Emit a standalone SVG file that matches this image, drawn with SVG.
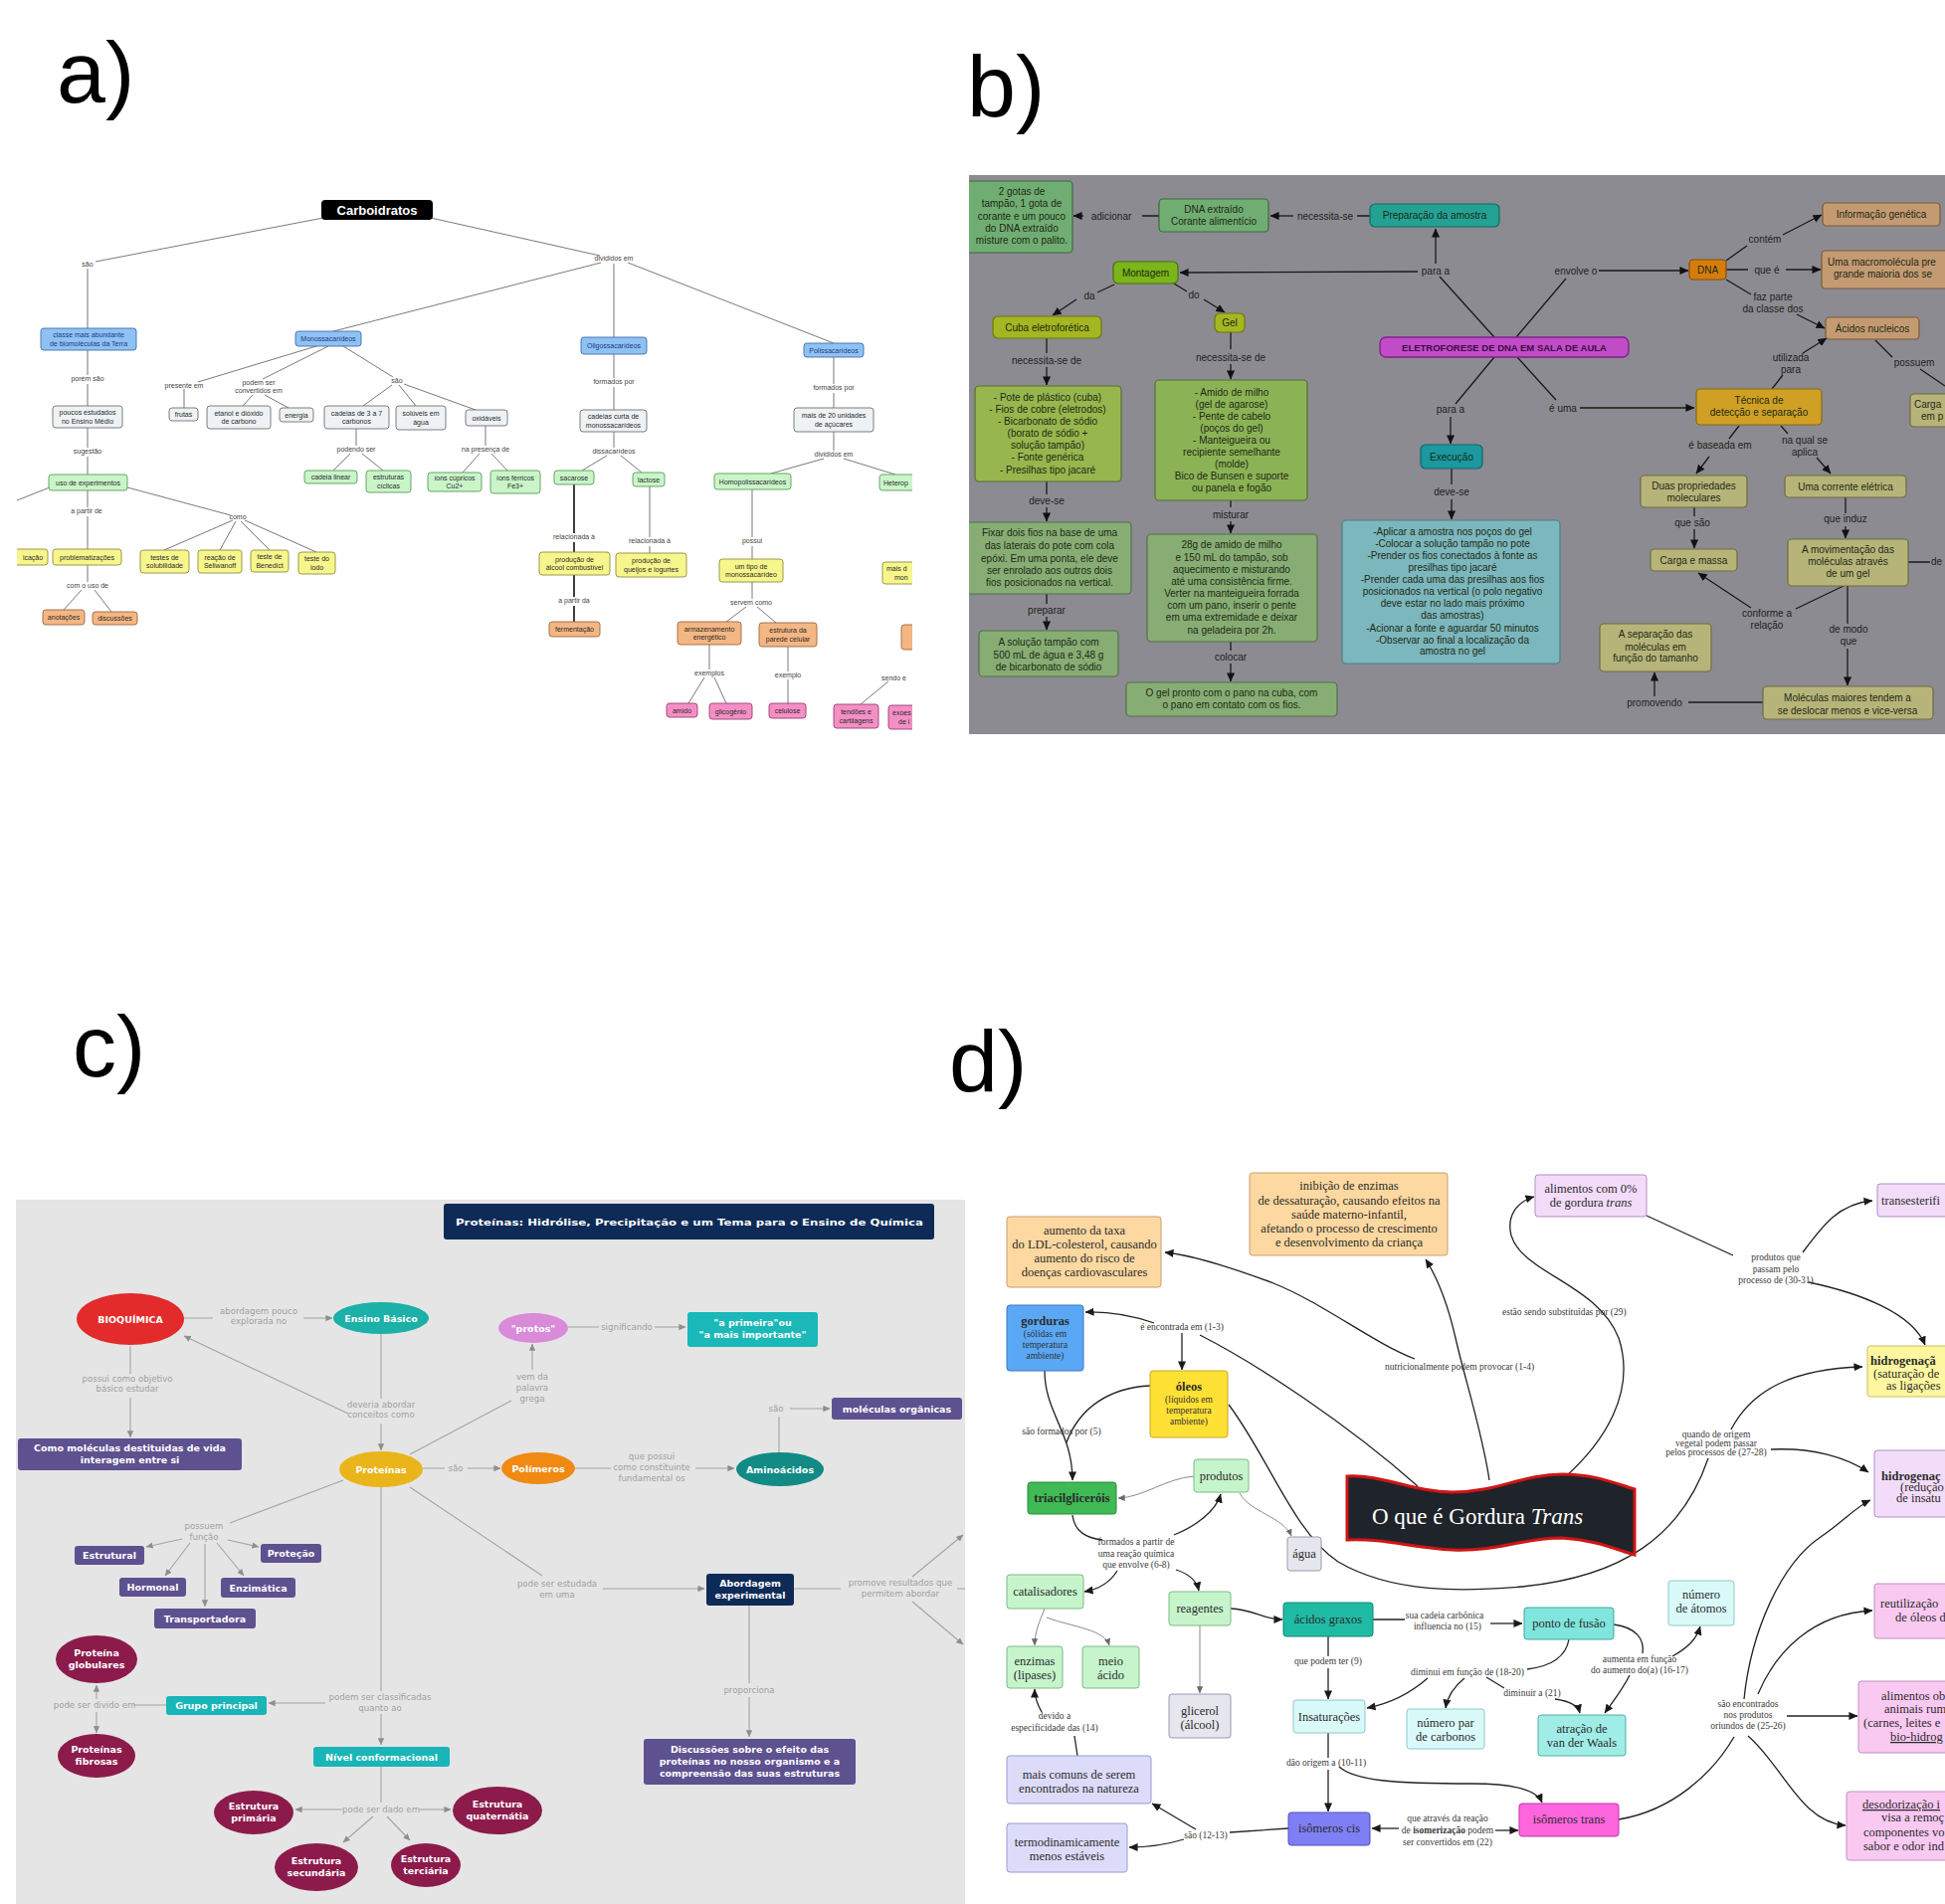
<svg xmlns="http://www.w3.org/2000/svg" width="1955" height="1914" viewBox="0 0 1955 1914">
<style>
.pl{font-family:"Liberation Sans",Arial,sans-serif;font-size:88px;fill:#000}
.an{font-family:"Liberation Sans",Arial,sans-serif;font-size:7px;fill:#2a2a2a;text-anchor:middle}
.anb{font-family:"Liberation Sans",Arial,sans-serif;font-size:7px;fill:#1a3a8a;text-anchor:middle}
.al{font-family:"Liberation Sans",Arial,sans-serif;font-size:7px;fill:#444;text-anchor:middle}
.ae{stroke:#6a6a6a;stroke-width:.9;fill:none}
.ab{fill:#8fc1f2;stroke:#3f6fae;stroke-width:.9}
.ag{fill:#eef2f5;stroke:#6f6f6f;stroke-width:.9}
.agr{fill:#c9f5c9;stroke:#5f9a5f;stroke-width:.9}
.ay{fill:#f7f68c;stroke:#8f8f40;stroke-width:.9}
.ao{fill:#f4b683;stroke:#9a6a40;stroke-width:.9}
.ap{fill:#f48fc6;stroke:#9a4070;stroke-width:.9}
.bt{font-family:"Liberation Sans",Arial,sans-serif;font-size:10px;fill:#1d2a14;text-anchor:middle}
.bl{font-family:"Liberation Sans",Arial,sans-serif;font-size:10px;fill:#1e1e1e;text-anchor:middle}
.be{stroke:#1a1a1a;stroke-width:1.3;fill:none}
.bg1{fill:#70ad72;stroke:#3d6b40;stroke-width:1.2}
.bg2{fill:#87ad74;stroke:#55704a;stroke-width:1.2}
.bk{fill:#b7b47a;stroke:#6e6c40;stroke-width:1.2}
.btn{fill:#c49a72;stroke:#7a5a3a;stroke-width:1.2}
.ct{font-family:"DejaVu Sans",Verdana,sans-serif;font-weight:bold;font-size:9.5px;fill:#fff;text-anchor:middle}
.cl{font-family:"DejaVu Sans",Verdana,sans-serif;font-size:8.6px;fill:#a0a0a0;text-anchor:middle}
.ce{stroke:#a4a4a4;stroke-width:1.1;fill:none}
.cp{fill:#5e5190}
.cm{fill:#8c1b4b}
.cq{fill:#19b5b8}
.dt{font-family:"Liberation Serif","Times New Roman",serif;font-size:12.5px;fill:#2b2b2b;text-anchor:middle}
.dts{font-family:"Liberation Serif","Times New Roman",serif;font-size:12.5px;fill:#2b2b2b}
.ds{font-family:"Liberation Serif","Times New Roman",serif;font-size:9.5px;fill:#333;text-anchor:middle}
.dl{font-family:"Liberation Serif","Times New Roman",serif;font-size:9.5px;fill:#3a3a3a;text-anchor:middle}
.de{stroke:#222;stroke-width:1.3;fill:none}
.dg{stroke:#8a8a8a;stroke-width:1;fill:none}
.dor{fill:#fdd8a0;stroke:#c8a070;stroke-width:1}
.dgr{fill:#c6f5cc;stroke:#80b888;stroke-width:1}
.dgy{fill:#e6e6ee;stroke:#9a9aaa;stroke-width:1}
.dcy{fill:#dafafa;stroke:#90c8c8;stroke-width:1}
.dlv{fill:#dcdcfa;stroke:#9a9ad0;stroke-width:1}
.dli{fill:#f3dcfa;stroke:#b090c0;stroke-width:1}
.dpk{fill:#f9c9f2;stroke:#c090c0;stroke-width:1}
</style>
<defs>
<marker id="mb" viewBox="0 0 10 10" refX="9.5" refY="5" markerWidth="9" markerHeight="9" markerUnits="userSpaceOnUse" orient="auto"><path d="M0,0.5 L10,5 L0,9.5 z" fill="#111"/></marker>
<marker id="mc" viewBox="0 0 10 10" refX="9.5" refY="5" markerWidth="7" markerHeight="7" markerUnits="userSpaceOnUse" orient="auto"><path d="M0,0.5 L10,5 L0,9.5 z" fill="#8e8e8e"/></marker>
<marker id="md" viewBox="0 0 10 10" refX="9.5" refY="5" markerWidth="9" markerHeight="9" markerUnits="userSpaceOnUse" orient="auto"><path d="M0,0.5 L10,5 L0,9.5 z" fill="#1a1a1a"/></marker>
<marker id="mg" viewBox="0 0 10 10" refX="9.5" refY="5" markerWidth="7" markerHeight="7" markerUnits="userSpaceOnUse" orient="auto"><path d="M0,0.5 L10,5 L0,9.5 z" fill="#6a6a6a"/></marker>
<clipPath id="ca"><rect x="17" y="185" width="900" height="585"/></clipPath>
<clipPath id="cb"><rect x="974" y="176" width="981" height="562"/></clipPath>
<clipPath id="cc"><rect x="16" y="1206" width="954" height="708"/></clipPath>
</defs>
<rect x="0" y="0" width="1955" height="1914" fill="#fff"/>

<g id="panel-labels">
<text class="pl" x="57" y="103">a)</text>
<text class="pl" x="972" y="117">b)</text>
<text class="pl" x="73" y="1082">c)</text>
<text class="pl" x="954" y="1097">d)</text>
</g>

<!-- ================= PANEL A ================= -->
<g id="panel-a" clip-path="url(#ca)">
<g id="a-connectors">
<path class="ae" d="M325,219 L96,263 M88,270 L88,330 M433,219 L603,257 M604,264 L335,333 M617,265 L617,339 M631,264 L838,345 M88,352 L88,377 M88,386 L88,408 M88,430 L88,450 M88,459 L88,477 M88,493 L88,510 M88,519 L88,552 M50,490 L17,503 M128,490 L232,518 M88,568 L88,585 M82,593 L64,613 M95,593 L112,615 M234,523 L165,553 M237,524 L221,553 M242,524 L271,553 M246,523 L318,555 M318,348 L199,384 M185,391 L185,410 M330,348 L264,381 M254,397 L244,408 M266,397 L290,410 M345,348 L395,379 M394,387 L365,408 M401,387 L418,408 M406,386 L478,412 M358,431 L358,448 M352,456 L335,473 M364,456 L385,473 M488,428 L488,448 M482,456 L465,475 M494,456 L510,473 M617,356 L617,380 M617,389 L617,412 M617,434 L617,450 M610,458 L585,473 M624,458 L645,475 M653,489 L653,540 M653,549 L653,556 M838,359 L838,386 M838,395 L838,410 M838,434 L838,453 M828,461 L775,476 M848,461 L900,477 M756,492 L756,540 M756,549 L756,562 M756,585 L756,602 M750,610 L730,625 M761,610 L780,626 M713,648 L713,673 M708,681 L692,707 M718,681 L730,707 M792,650 L792,675 M792,683 L792,707 M893,685 L865,708"/>
<path d="M577,487 L577,536 M577,545 L577,555 M577,578 L577,600 M577,609 L577,625" stroke="#111" stroke-width="1.6" fill="none"/>
</g>
<g id="a-labels">
<text class="al" x="88" y="267.5">são</text>
<text class="al" x="617" y="261.5">divididos em</text>
<text class="al" x="88" y="382.5">porém são</text>
<text class="al" x="88" y="455.5">sugestão</text>
<text class="al" x="87" y="515.5">a partir de</text>
<text class="al" x="239" y="521.5">como</text>
<text class="al" x="88" y="590.5">com o uso de</text>
<text class="al" x="185" y="389.5">presente em</text>
<text class="al" x="260" y="386.5">podem ser</text>
<text class="al" x="260" y="395">convertidos em</text>
<text class="al" x="399" y="384.5">são</text>
<text class="al" x="358" y="453.5">podendo ser</text>
<text class="al" x="488" y="453.5">na presença de</text>
<text class="al" x="617" y="385.5">formados por</text>
<text class="al" x="617" y="455.5">dissacarídeos</text>
<text class="al" x="577" y="541.5">relacionada à</text>
<text class="al" x="653" y="545.5">relacionada à</text>
<text class="al" x="577" y="605.5">a partir da</text>
<text class="al" x="838" y="391.5">formados por</text>
<text class="al" x="838" y="458.5">divididos em</text>
<text class="al" x="756" y="545.5">possui</text>
<text class="al" x="755" y="607.5">servem como</text>
<text class="al" x="713" y="678.5">exemplos</text>
<text class="al" x="792" y="680.5">exemplo</text>
<text class="al" x="886" y="683.5" style="text-anchor:start">sendo e</text>
</g>
<g id="a-carboidratos"><rect x="323" y="201" width="112" height="20" rx="4" fill="#000"/><text x="379" y="216" font-family="'Liberation Sans',Arial,sans-serif" font-weight="bold" font-size="13" fill="#fff" text-anchor="middle">Carboidratos</text></g>
<g id="a-classe"><rect class="ab" x="41" y="330" width="96" height="22" rx="3"/><text class="anb" x="89" y="339.3">classe mais abundante</text><text class="anb" x="89" y="347.6">de biomoléculas da Terra</text></g>
<g id="a-poucos"><rect class="ag" x="53" y="408" width="70" height="22" rx="3"/><text class="an" x="88" y="417.3">poucos estudados</text><text class="an" x="88" y="425.6">no Ensino Médio</text></g>
<g id="a-uso"><rect class="agr" x="49" y="477" width="79" height="16" rx="3"/><text class="an" x="88.5" y="487.5">uso de experimentos</text></g>
<g id="a-icacao"><rect class="ay" x="12" y="552" width="36" height="16" rx="3"/><text class="an" x="33" y="562.5">icação</text></g>
<g id="a-problem"><rect class="ay" x="53" y="552" width="69" height="16" rx="3"/><text class="an" x="87.5" y="562.5">problematizações</text></g>
<g id="a-anotacoes"><rect class="ao" x="43" y="613" width="42" height="15" rx="3"/><text class="an" x="64" y="623">anotações</text></g>
<g id="a-discussoes"><rect class="ao" x="93" y="615" width="45" height="13" rx="3"/><text class="an" x="115.5" y="624">discussões</text></g>
<g id="a-testes"><rect class="ay" x="141" y="553" width="49" height="23" rx="3"/><text class="an" x="165.5" y="562.8">testes de</text><text class="an" x="165.5" y="571.1">solubilidade</text></g>
<g id="a-seliwanoff"><rect class="ay" x="199" y="553" width="44" height="23" rx="3"/><text class="an" x="221" y="562.8">reação de</text><text class="an" x="221" y="571.1">Seliwanoff</text></g>
<g id="a-benedict"><rect class="ay" x="252" y="553" width="38" height="22" rx="3"/><text class="an" x="271" y="562.3">teste de</text><text class="an" x="271" y="570.6">Benedict</text></g>
<g id="a-iodo"><rect class="ay" x="300" y="555" width="37" height="22" rx="3"/><text class="an" x="318.5" y="564.3">teste do</text><text class="an" x="318.5" y="572.6">iodo</text></g>
<g id="a-mono"><rect class="ab" x="297" y="333" width="66" height="15" rx="3"/><text class="anb" x="330" y="343">Monossacarídeos</text></g>
<g id="a-frutas"><rect class="ag" x="170" y="410" width="29" height="13" rx="3"/><text class="an" x="184.5" y="419">frutas</text></g>
<g id="a-etanol"><rect class="ag" x="208" y="408" width="64" height="23" rx="3"/><text class="an" x="240" y="417.8">etanol e dióxido</text><text class="an" x="240" y="426.1">de carbono</text></g>
<g id="a-energia"><rect class="ag" x="281" y="410" width="34" height="14" rx="3"/><text class="an" x="298" y="419.5">energia</text></g>
<g id="a-cadeias"><rect class="ag" x="326" y="408" width="65" height="23" rx="3"/><text class="an" x="358.5" y="417.8">cadeias de 3 a 7</text><text class="an" x="358.5" y="426.1">carbonos</text></g>
<g id="a-soluveis"><rect class="ag" x="398" y="408" width="50" height="24" rx="3"/><text class="an" x="423" y="418.3">solúveis em</text><text class="an" x="423" y="426.6">água</text></g>
<g id="a-oxidaveis"><rect class="ag" x="468" y="412" width="42" height="16" rx="3"/><text class="an" x="489" y="422.5">oxidáveis</text></g>
<g id="a-linear"><rect class="agr" x="306" y="473" width="53" height="13" rx="3"/><text class="an" x="332.5" y="482">cadeia linear</text></g>
<g id="a-ciclicas"><rect class="agr" x="368" y="473" width="45" height="22" rx="3"/><text class="an" x="390.5" y="482.3">estruturas</text><text class="an" x="390.5" y="490.6">cíclicas</text></g>
<g id="a-cupricos"><rect class="agr" x="430" y="475" width="54" height="19" rx="3"/><text class="an" x="457" y="482.8">íons cúpricos</text><text class="an" x="457" y="491.1">Cu2+</text></g>
<g id="a-ferricos"><rect class="agr" x="493" y="473" width="50" height="23" rx="3"/><text class="an" x="518" y="482.8">íons férricos</text><text class="an" x="518" y="491.1">Fe3+</text></g>
<g id="a-oligo"><rect class="ab" x="584" y="339" width="66" height="17" rx="3"/><text class="anb" x="617" y="350">Oligossacarídeos</text></g>
<g id="a-curta"><rect class="ag" x="583" y="412" width="67" height="22" rx="3"/><text class="an" x="616.5" y="421.3">cadeias curta de</text><text class="an" x="616.5" y="429.6">monossacarídeos</text></g>
<g id="a-sacarose"><rect class="agr" x="557" y="473" width="40" height="14" rx="3"/><text class="an" x="577" y="482.5">sacarose</text></g>
<g id="a-lactose"><rect class="agr" x="636" y="475" width="32" height="14" rx="3"/><text class="an" x="652" y="484.5">lactose</text></g>
<g id="a-alcool"><rect class="ay" x="542" y="555" width="71" height="23" rx="3" stroke="#333"/><text class="an" x="577.5" y="564.8">produção de</text><text class="an" x="577.5" y="573.1">álcool combustível</text></g>
<g id="a-queijos"><rect class="ay" x="619" y="556" width="71" height="24" rx="3"/><text class="an" x="654.5" y="566.3">produção de</text><text class="an" x="654.5" y="574.6">queijos e iogurtes</text></g>
<g id="a-fermentacao"><rect class="ao" x="552" y="625" width="51" height="15" rx="3"/><text class="an" x="577.5" y="635">fermentação</text></g>
<g id="a-poli"><rect class="ab" x="808" y="345" width="60" height="14" rx="3"/><text class="anb" x="838" y="354.5">Polissacarídeos</text></g>
<g id="a-mais20"><rect class="ag" x="798" y="410" width="80" height="24" rx="3"/><text class="an" x="838" y="420.3">mais de 20 unidades</text><text class="an" x="838" y="428.6">de açúcares</text></g>
<g id="a-homo"><rect class="agr" x="718" y="476" width="77" height="16" rx="3"/><text class="an" x="756.5" y="486.5">Homopolissacarídeos</text></g>
<g id="a-hetero"><rect class="agr" x="884" y="477" width="50" height="16" rx="3"/><text class="an" x="888" y="487.5" style="text-anchor:start">Heterop</text></g>
<g id="a-umtipo"><rect class="ay" x="723" y="562" width="64" height="23" rx="3"/><text class="an" x="755" y="571.8">um tipo de</text><text class="an" x="755" y="580.1">monossacarídeo</text></g>
<g id="a-armaz"><rect class="ao" x="681" y="625" width="64" height="23" rx="3"/><text class="an" x="713" y="634.8">armazenamento</text><text class="an" x="713" y="643.1">energético</text></g>
<g id="a-parede"><rect class="ao" x="763" y="626" width="58" height="24" rx="3"/><text class="an" x="792" y="636.3">estrutura da</text><text class="an" x="792" y="644.6">parede celular</text></g>
<g id="a-amido"><rect class="ap" x="670" y="707" width="31" height="14" rx="3"/><text class="an" x="685.5" y="716.5">amido</text></g>
<g id="a-glicogenio"><rect class="ap" x="713" y="707" width="43" height="16" rx="3"/><text class="an" x="734.5" y="717.5">glicogênio</text></g>
<g id="a-celulose"><rect class="ap" x="773" y="707" width="37" height="15" rx="3"/><text class="an" x="791.5" y="717">celulose</text></g>
<g id="a-maisdeum"><rect class="ay" x="887" y="565" width="50" height="22" rx="3"/><text class="an" x="891" y="574.3" style="text-anchor:start">mais d</text><text class="an" x="899" y="582.6" style="text-anchor:start">mon</text></g>
<g id="a-orange-r"><rect class="ao" x="906" y="628" width="30" height="25" rx="3"/></g>
<g id="a-tendoes"><rect class="ap" x="838" y="708" width="45" height="24" rx="3"/><text class="an" x="860.5" y="718.3">tendões e</text><text class="an" x="860.5" y="726.6">cartilagens</text></g>
<g id="a-exo"><rect class="ap" x="893" y="709" width="40" height="24" rx="3"/><text class="an" x="897" y="719.3" style="text-anchor:start">exoes</text><text class="an" x="903" y="727.6" style="text-anchor:start">de i</text></g>
</g>

<!-- ================= PANEL B ================= -->
<g id="panel-b" clip-path="url(#cb)">
<rect x="974" y="176" width="981" height="562" fill="#8c8b91"/>
<g id="b-connectors">
<path class="be" d="M1377,217 L1364,217 M1165,217 L1148,217 M1447,278 L1502,339 M1525,359 L1564,402 M1574,280 L1524,339 M1502,359 L1463,406 M1735,262 L1756,247 M1735,271 L1757,271 M1735,281 L1760,296 M1885,342 L1902,359 M1930,371 L1955,388 M1781,391 L1792,377 M1748,428 L1738,441 M1790,428 L1797,436 M1703,510 L1703,519 M1855,500 L1855,516 M1918,565 L1940,565 M1853,589 L1805,612 M1857,589 L1857,627 M1772,706 L1697,706 M1120,286 L1103,294 M1180,285 L1193,293 M1052,340 L1052,355 M1237,334 L1237,351 M1052,484 L1052,497 M1237,503 L1237,510 M1052,597 L1052,607 M1237,645 L1237,654 M1459,471 L1459,487"/>
<g marker-end="url(#mb)">
<path class="be" d="M1300,217 L1277,217"/>
<path class="be" d="M1089,217 L1079,217"/>
<path class="be" d="M1443,265 L1443,230"/>
<path class="be" d="M1425,273 L1186,274"/>
<path class="be" d="M1607,272 L1697,272"/>
<path class="be" d="M1588,410 L1703,410"/>
<path class="be" d="M1458,419 L1458,446"/>
<path class="be" d="M1792,236 L1831,216"/>
<path class="be" d="M1795,271 L1830,271"/>
<path class="be" d="M1806,316 L1834,330"/>
<path class="be" d="M1812,355 L1836,340"/>
<path class="be" d="M1718,459 L1705,476"/>
<path class="be" d="M1826,460 L1840,476"/>
<path class="be" d="M1703,532 L1703,551"/>
<path class="be" d="M1855,529 L1855,541"/>
<path class="be" d="M1760,611 L1707,576"/>
<path class="be" d="M1857,652 L1857,689"/>
<path class="be" d="M1663,700 L1663,676"/>
<path class="be" d="M1082,301 L1058,317"/>
<path class="be" d="M1210,301 L1231,314"/>
<path class="be" d="M1052,369 L1052,387"/>
<path class="be" d="M1237,366 L1237,381"/>
<path class="be" d="M1052,510 L1052,524"/>
<path class="be" d="M1237,524 L1237,536"/>
<path class="be" d="M1052,620 L1052,633"/>
<path class="be" d="M1237,667 L1237,685"/>
<path class="be" d="M1459,502 L1459,522"/>
</g>
</g>
<g id="b-labels">
<text class="bl" x="1117" y="220.5">adicionar</text>
<text class="bl" x="1332" y="220.5">necessita-se</text>
<text class="bl" x="1443" y="275.5">para a</text>
<text class="bl" x="1584" y="275.5">envolve o</text>
<text class="bl" x="1458" y="414.5">para a</text>
<text class="bl" x="1571" y="413.5">é uma</text>
<text class="bl" x="1774" y="243.5">contém</text>
<text class="bl" x="1776" y="274.5">que é</text>
<text class="bl" x="1782" y="302">faz parte</text>
<text class="bl" x="1782" y="314">da classe dos</text>
<text class="bl" x="1800" y="362.5">utilizada</text>
<text class="bl" x="1800" y="374.5">para</text>
<text class="bl" x="1924" y="367.5">possuem</text>
<text class="bl" x="1729" y="450.5">é baseada em</text>
<text class="bl" x="1814" y="445.5">na qual se</text>
<text class="bl" x="1814" y="457.5">aplica</text>
<text class="bl" x="1701" y="528.5">que são</text>
<text class="bl" x="1855" y="524.5">que induz</text>
<text class="bl" x="1941" y="567.5" style="text-anchor:start">de</text>
<text class="bl" x="1776" y="620">conforme a</text>
<text class="bl" x="1776" y="631.5">relação</text>
<text class="bl" x="1858" y="635.5">de modo</text>
<text class="bl" x="1858" y="647.5">que</text>
<text class="bl" x="1663" y="709.5">promovendo</text>
<text class="bl" x="1095" y="300.5">da</text>
<text class="bl" x="1200" y="299.5">do</text>
<text class="bl" x="1052" y="365.5">necessita-se de</text>
<text class="bl" x="1237" y="362.5">necessita-se de</text>
<text class="bl" x="1052" y="506.5">deve-se</text>
<text class="bl" x="1237" y="520.5">misturar</text>
<text class="bl" x="1052" y="616.5">preparar</text>
<text class="bl" x="1237" y="663.5">colocar</text>
<text class="bl" x="1459" y="497.5">deve-se</text>
</g>
<g id="b-gotas"><rect class="bg1" x="960" y="182" width="118" height="72" rx="4"/><g font-size="9.5"><text class="bt" x="1027" y="196" font-size="9.5">2 gotas de</text><text class="bt" x="1027" y="208" font-size="9.5">tampão, 1 gota de</text><text class="bt" x="1027" y="221" font-size="9.5">corante e um pouco</text><text class="bt" x="1027" y="233" font-size="9.5">do DNA extraído</text><text class="bt" x="1027" y="245" font-size="9.5">misture com o palito.</text></g></g>
<g id="b-dna-extraido"><rect class="bg1" x="1165" y="200" width="110" height="33" rx="4"/><text class="bt" x="1220" y="214">DNA extraído</text><text class="bt" x="1220" y="226">Corante alimentício</text></g>
<g id="b-preparacao"><rect x="1377" y="205" width="130" height="23" rx="5" fill="#23a294" stroke="#166a60" stroke-width="1.2"/><text class="bt" x="1442" y="220" fill="#0d4f48">Preparação da amostra</text></g>
<g id="b-montagem"><rect x="1119" y="263" width="65" height="22" rx="5" fill="#7ab51a" stroke="#4a7010" stroke-width="1.2"/><text class="bt" x="1151.5" y="277.5" fill="#2f4a06">Montagem</text></g>
<g id="b-cuba"><rect x="998" y="318" width="109" height="22" rx="5" fill="#a4b621" stroke="#6a7a10" stroke-width="1.2"/><text class="bt" x="1052.5" y="332.5" fill="#3e4a05">Cuba eletroforética</text></g>
<g id="b-gel"><rect x="1221" y="315" width="30" height="19" rx="5" fill="#a4b621" stroke="#6a7a10" stroke-width="1.2"/><text class="bt" x="1236" y="328" fill="#3e4a05">Gel</text></g>
<g id="b-pote"><rect x="980" y="388" width="147" height="96" rx="4" fill="#97b64d" stroke="#5a7030" stroke-width="1.2"/><text class="bt" x="1053" y="403">- Pote de plástico (cuba)</text><text class="bt" x="1053" y="415">- Fios de cobre (eletrodos)</text><text class="bt" x="1053" y="427">- Bicarbonato de sódio</text><text class="bt" x="1053" y="439">(borato de sódio +</text><text class="bt" x="1053" y="451">solução tampão)</text><text class="bt" x="1053" y="463">- Fonte genérica</text><text class="bt" x="1053" y="476">- Presilhas tipo jacaré</text></g>
<g id="b-amido"><rect x="1161" y="382" width="153" height="121" rx="4" fill="#8cb256" stroke="#557030" stroke-width="1.2"/><text class="bt" x="1238" y="398">- Amido de milho</text><text class="bt" x="1238" y="410">(gel de agarose)</text><text class="bt" x="1238" y="422">- Pente de cabelo</text><text class="bt" x="1238" y="434">(poços do gel)</text><text class="bt" x="1238" y="446">- Manteigueira ou</text><text class="bt" x="1238" y="458">recipiente semelhante</text><text class="bt" x="1238" y="470">(molde)</text><text class="bt" x="1238" y="482">Bico de Bunsen e suporte</text><text class="bt" x="1238" y="494">ou panela e fogão</text></g>
<g id="b-fixar"><rect class="bg2" x="970" y="525" width="167" height="72" rx="4"/><text class="bt" x="1055" y="539">Fixar dois fios na base de uma</text><text class="bt" x="1055" y="552">das laterais do pote com cola</text><text class="bt" x="1055" y="565">epóxi. Em uma ponta, ele deve</text><text class="bt" x="1055" y="577">ser enrolado aos outros dois</text><text class="bt" x="1055" y="589">fios posicionados na vertical.</text></g>
<g id="b-solucao"><rect class="bg2" x="984" y="634" width="140" height="46" rx="4"/><text class="bt" x="1054" y="649">A solução tampão com</text><text class="bt" x="1054" y="662">500 mL de água e 3,48 g</text><text class="bt" x="1054" y="674">de bicarbonato de sódio</text></g>
<g id="b-28g"><rect class="bg2" x="1153" y="537" width="171" height="108" rx="4"/><text class="bt" x="1238" y="551">28g de amido de milho</text><text class="bt" x="1238" y="564">e 150 mL do tampão, sob</text><text class="bt" x="1238" y="576">aquecimento e misturando</text><text class="bt" x="1238" y="588">até uma consistência firme.</text><text class="bt" x="1238" y="600">Verter na manteigueira forrada</text><text class="bt" x="1238" y="612">com um pano, inserir o pente</text><text class="bt" x="1238" y="624">em uma extremidade e deixar</text><text class="bt" x="1238" y="637">na geladeira por 2h.</text></g>
<g id="b-gelpronto"><rect class="bg2" x="1132" y="686" width="212" height="34" rx="4"/><text class="bt" x="1238" y="700">O gel pronto com o pano na cuba, com</text><text class="bt" x="1238" y="712">o pano em contato com os fios.</text></g>
<g id="b-eletroforese"><rect x="1387" y="339" width="250" height="20" rx="6" fill="#c04cc8" stroke="#80208a" stroke-width="1.3"/><text x="1512" y="352.5" font-family="'Liberation Sans',Arial,sans-serif" font-weight="bold" font-size="9.5" fill="#3c0a45" text-anchor="middle">ELETROFORESE DE DNA EM SALA DE AULA</text></g>
<g id="b-execucao"><rect x="1428" y="447" width="62" height="24" rx="5" fill="#1b98a0" stroke="#10666c" stroke-width="1.2"/><text class="bt" x="1459" y="462.5" fill="#0a4a50">Execução</text></g>
<g id="b-passos"><rect x="1349" y="523" width="219" height="144" rx="4" fill="#7cb7bd" stroke="#4a8088" stroke-width="1.2"/><text class="bt" fill="#0c2a30" x="1460" y="538">-Aplicar a amostra nos poços do gel</text><text class="bt" fill="#0c2a30" x="1460" y="550">-Colocar a solução tampão no pote</text><text class="bt" fill="#0c2a30" x="1460" y="562">-Prender os fios conectados à fonte as</text><text class="bt" fill="#0c2a30" x="1460" y="574">presilhas tipo jacaré</text><text class="bt" fill="#0c2a30" x="1460" y="586">-Prender cada uma das presilhas aos fios</text><text class="bt" fill="#0c2a30" x="1460" y="598">posicionados na vertical (o polo negativo</text><text class="bt" fill="#0c2a30" x="1460" y="610">deve estar no lado mais próximo</text><text class="bt" fill="#0c2a30" x="1460" y="622">das amostras)</text><text class="bt" fill="#0c2a30" x="1460" y="635">-Acionar a fonte e aguardar 50 minutos</text><text class="bt" fill="#0c2a30" x="1460" y="647">-Observar ao final a localização da</text><text class="bt" fill="#0c2a30" x="1460" y="658">amostra no gel</text></g>
<g id="b-dna"><rect x="1698" y="261" width="37" height="20" rx="4" fill="#d57d0c" stroke="#8a4a05" stroke-width="1.2"/><text class="bt" x="1716.5" y="274.5" fill="#6a2a00">DNA</text></g>
<g id="b-informacao"><rect class="btn" x="1832" y="204" width="118" height="23" rx="4"/><text class="bt" x="1891" y="219" fill="#5a3010">Informação genética</text></g>
<g id="b-macro"><rect class="btn" x="1831" y="252" width="140" height="38" rx="4"/><text class="bt" x="1837" y="267" fill="#5a3010" style="text-anchor:start">Uma macromolécula pre</text><text class="bt" x="1843" y="279" fill="#5a3010" style="text-anchor:start">grande maioria dos se</text></g>
<g id="b-acidos"><rect class="btn" x="1835" y="319" width="94" height="22" rx="4"/><text class="bt" x="1882" y="333.5" fill="#5a3010">Ácidos nucleicos</text></g>
<g id="b-carga-r"><rect class="bk" x="1920" y="396" width="50" height="33" rx="4"/><text class="bt" x="1924" y="410" fill="#3a3a10" style="text-anchor:start">Carga</text><text class="bt" x="1931" y="422" fill="#3a3a10" style="text-anchor:start">em p</text></g>
<g id="b-tecnica"><rect x="1705" y="391" width="126" height="36" rx="4" fill="#cfa023" stroke="#8a6a10" stroke-width="1.2"/><text class="bt" x="1768" y="406" fill="#4a3a05">Técnica de</text><text class="bt" x="1768" y="418" fill="#4a3a05">detecção e separação</text></g>
<g id="b-duas"><rect class="bk" x="1649" y="478" width="107" height="32" rx="4"/><text class="bt" x="1702.5" y="492" fill="#3a3a10">Duas propriedades</text><text class="bt" x="1702.5" y="504" fill="#3a3a10">moleculares</text></g>
<g id="b-carga"><rect class="bk" x="1659" y="552" width="87" height="22" rx="4"/><text class="bt" x="1702.5" y="566.5" fill="#3a3a10">Carga e massa</text></g>
<g id="b-corrente"><rect class="bk" x="1794" y="478" width="122" height="22" rx="4"/><text class="bt" x="1855" y="492.5" fill="#3a3a10">Uma corrente elétrica</text></g>
<g id="b-movimentacao"><rect class="bk" x="1797" y="542" width="121" height="47" rx="4"/><text class="bt" x="1857.5" y="556" fill="#3a3a10">A movimentação das</text><text class="bt" x="1857.5" y="568" fill="#3a3a10">moléculas através</text><text class="bt" x="1857.5" y="580" fill="#3a3a10">de um gel</text></g>
<g id="b-separacao"><rect class="bk" x="1608" y="627" width="112" height="48" rx="4"/><text class="bt" x="1664" y="641" fill="#3a3a10">A separação das</text><text class="bt" x="1664" y="654" fill="#3a3a10">moléculas em</text><text class="bt" x="1664" y="665" fill="#3a3a10">função do tamanho</text></g>
<g id="b-maiores"><rect class="bk" x="1772" y="690" width="171" height="33" rx="4"/><text class="bt" x="1857" y="705" fill="#3a3a10">Moléculas maiores tendem a</text><text class="bt" x="1857" y="718" fill="#3a3a10">se deslocar menos e vice-versa</text></g>
</g>

<!-- ================= PANEL C ================= -->
<g id="panel-c" clip-path="url(#cc)">
<rect x="16" y="1206" width="954" height="708" fill="#e5e5e5"/>
<g id="c-connectors">
<path class="ce" d="M185,1325 L214,1325 M383,1341 L383,1406 M131,1353 L131,1381 M425,1476 L447,1476 M578,1476 L614,1476 M783,1460 L783,1424 M412,1462 L514,1408 M571,1334 L602,1334 M345,1488 L231,1531 M383,1495 L383,1700 M167,1714 L134,1714 M383,1776 L383,1812 M412,1495 L545,1584 M753,1614 L753,1692 M798,1597 L845,1597 M962,1597 L970,1597"/>
<g marker-end="url(#mc)">
<path class="ce" d="M305,1325 L334,1325"/>
<path class="ce" d="M383,1431 L383,1458"/>
<path class="ce" d="M350,1421 L185,1343"/>
<path class="ce" d="M131,1405 L131,1445"/>
<path class="ce" d="M470,1476 L503,1476"/>
<path class="ce" d="M699,1476 L738,1476"/>
<path class="ce" d="M794,1416 L834,1416"/>
<path class="ce" d="M535,1377 L535,1351"/>
<path class="ce" d="M658,1334 L689,1334"/>
<path class="ce" d="M183,1547 L147,1555"/>
<path class="ce" d="M229,1548 L260,1555"/>
<path class="ce" d="M191,1551 L166,1584"/>
<path class="ce" d="M218,1551 L245,1584"/>
<path class="ce" d="M206,1552 L206,1615"/>
<path class="ce" d="M383,1723 L383,1754"/>
<path class="ce" d="M327,1712 L270,1712"/>
<path class="ce" d="M97,1708 L97,1694"/>
<path class="ce" d="M97,1721 L97,1742"/>
<path class="ce" d="M344,1819 L297,1819"/>
<path class="ce" d="M422,1819 L453,1819"/>
<path class="ce" d="M375,1826 L345,1852"/>
<path class="ce" d="M389,1826 L412,1850"/>
<path class="ce" d="M606,1597 L708,1597"/>
<path class="ce" d="M753,1706 L753,1746"/>
<path class="ce" d="M917,1585 L968,1543"/>
<path class="ce" d="M917,1610 L968,1653"/>
</g>
</g>
<g id="c-labels">
<text class="cl" x="260" y="1321">abordagem pouco</text>
<text class="cl" x="260" y="1331">explorada no</text>
<text class="cl" x="383" y="1415">deveria abordar</text>
<text class="cl" x="383" y="1425">conceitos como</text>
<text class="cl" x="128" y="1389">possui como objetivo</text>
<text class="cl" x="128" y="1399">básico estudar</text>
<text class="cl" x="458" y="1479">são</text>
<text class="cl" x="655" y="1467">que possui</text>
<text class="cl" x="655" y="1478">como constituinte</text>
<text class="cl" x="655" y="1489">fundamental os</text>
<text class="cl" x="780" y="1419">são</text>
<text class="cl" x="535" y="1387">vem da</text>
<text class="cl" x="535" y="1398">palavra</text>
<text class="cl" x="535" y="1409">grega</text>
<text class="cl" x="630" y="1337">significando</text>
<text class="cl" x="205" y="1537">possuem</text>
<text class="cl" x="205" y="1548">função</text>
<text class="cl" x="382" y="1709">podem ser classificadas</text>
<text class="cl" x="382" y="1720">quanto ao</text>
<text class="cl" x="95" y="1717">pode ser divido em</text>
<text class="cl" x="383" y="1822">pode ser dado em</text>
<text class="cl" x="560" y="1595">pode ser estudada</text>
<text class="cl" x="560" y="1606">em uma</text>
<text class="cl" x="753" y="1702">proporciona</text>
<text class="cl" x="905" y="1594">promove resultados que</text>
<text class="cl" x="905" y="1605">permitem abordar</text>
</g>
<g id="c-title"><rect x="446" y="1210" width="493" height="36" rx="3" fill="#0e2b57"/><text class="ct" x="693" y="1232" font-size="11" textLength="470" lengthAdjust="spacingAndGlyphs">Proteínas: Hidrólise, Precipitação e um Tema para o Ensino de Química</text></g>
<g id="c-bioquimica"><ellipse cx="131" cy="1326" rx="54" ry="26" fill="#e32b2b"/><text class="ct" x="131" y="1330" font-size="11">BIOQUÍMICA</text></g>
<g id="c-ensino"><ellipse cx="383" cy="1325" rx="48" ry="16" fill="#1bb0a8"/><text class="ct" x="383" y="1328.5">Ensino Básico</text></g>
<g id="c-protos"><ellipse cx="536" cy="1335" rx="35" ry="15" fill="#d98ad8"/><text class="ct" x="536" y="1338.5">"protos"</text></g>
<g id="c-primeira"><rect x="691" y="1319" width="131" height="35" rx="3" fill="#1ab8b8"/><text class="ct" x="756.5" y="1333">"a primeira"ou</text><text class="ct" x="756.5" y="1345">"a mais importante"</text></g>
<g id="c-proteinas"><ellipse cx="383" cy="1477" rx="42" ry="18" fill="#eab51a"/><text class="ct" x="383" y="1480.5">Proteínas</text></g>
<g id="c-polimeros"><ellipse cx="541" cy="1476" rx="37" ry="16" fill="#f08a12"/><text class="ct" x="541" y="1479.5">Polímeros</text></g>
<g id="c-aminoacidos"><ellipse cx="784" cy="1477" rx="44" ry="17" fill="#128a85"/><text class="ct" x="784" y="1480.5">Aminoácidos</text></g>
<g id="c-organicas"><rect class="cp" x="836" y="1405" width="131" height="22" rx="3"/><text class="ct" x="901.5" y="1419.5">moléculas orgânicas</text></g>
<g id="c-como"><rect class="cp" x="18" y="1446" width="225" height="32" rx="3"/><text class="ct" x="130.5" y="1459">Como moléculas destituidas de vida</text><text class="ct" x="130.5" y="1471">interagem entre si</text></g>
<g id="c-estrutural"><rect class="cp" x="75" y="1554" width="70" height="19" rx="3"/><text class="ct" x="110" y="1567">Estrutural</text></g>
<g id="c-protecao"><rect class="cp" x="262" y="1552" width="61" height="19" rx="3"/><text class="ct" x="292.5" y="1565">Proteção</text></g>
<g id="c-hormonal"><rect class="cp" x="120" y="1586" width="67" height="19" rx="3"/><text class="ct" x="153.5" y="1599">Hormonal</text></g>
<g id="c-enzimatica"><rect class="cp" x="222" y="1586" width="75" height="20" rx="3"/><text class="ct" x="259.5" y="1599.5">Enzimática</text></g>
<g id="c-transportadora"><rect class="cp" x="155" y="1617" width="102" height="20" rx="3"/><text class="ct" x="206" y="1630.5">Transportadora</text></g>
<g id="c-grupo"><rect class="cq" x="167" y="1705" width="101" height="19" rx="3"/><text class="ct" x="217.5" y="1718">Grupo principal</text></g>
<g id="c-globulares"><ellipse class="cm" cx="97" cy="1668" rx="41" ry="24"/><text class="ct" x="97" y="1665">Proteína</text><text class="ct" x="97" y="1677">globulares</text></g>
<g id="c-fibrosas"><ellipse class="cm" cx="97" cy="1765" rx="39" ry="22"/><text class="ct" x="97" y="1762">Proteínas</text><text class="ct" x="97" y="1774">fibrosas</text></g>
<g id="c-nivel"><rect class="cq" x="315" y="1756" width="137" height="20" rx="3"/><text class="ct" x="383.5" y="1769.5">Nível conformacional</text></g>
<g id="c-primaria"><ellipse class="cm" cx="255" cy="1822" rx="40" ry="22"/><text class="ct" x="255" y="1819">Estrutura</text><text class="ct" x="255" y="1831">primária</text></g>
<g id="c-quaternaria"><ellipse class="cm" cx="500" cy="1820" rx="45" ry="24"/><text class="ct" x="500" y="1817">Estrutura</text><text class="ct" x="500" y="1829">quaternátia</text></g>
<g id="c-secundaria"><ellipse class="cm" cx="318" cy="1877" rx="42" ry="24"/><text class="ct" x="318" y="1874">Estrutura</text><text class="ct" x="318" y="1886">secundária</text></g>
<g id="c-terciaria"><ellipse class="cm" cx="428" cy="1875" rx="35" ry="22"/><text class="ct" x="428" y="1872">Estrutura</text><text class="ct" x="428" y="1884">terciária</text></g>
<g id="c-abordagem"><rect x="710" y="1582" width="88" height="32" rx="3" fill="#0e2b57"/><text class="ct" x="754" y="1595">Abordagem</text><text class="ct" x="754" y="1607">experimental</text></g>
<g id="c-discussoes"><rect class="cp" x="647" y="1748" width="213" height="46" rx="3"/><text class="ct" x="753.5" y="1762">Discussões sobre o efeito das</text><text class="ct" x="753.5" y="1774">proteínas no nosso organismo e a</text><text class="ct" x="753.5" y="1786">compreensão das suas estruturas</text></g>
</g>

<!-- ================= PANEL D ================= -->
<g id="panel-d">
<g id="d-connectors">
<path class="de" d="M1206,1342 C1265,1372 1355,1432 1425,1494"/>
<path class="de" d="M1156,1393 C1115,1395 1085,1415 1072,1450"/>
<path class="de" d="M1235,1412 C1275,1465 1300,1540 1345,1570 C1400,1602 1470,1600 1530,1595 C1630,1585 1690,1545 1717,1466"/>
<path class="de" d="M1655,1222 L1742,1262"/>
<path class="de" d="M1627,1829 C1682,1820 1722,1782 1743,1746"/>
<path class="de" d="M1078,1523 C1080,1540 1092,1546 1108,1548"/>
<path class="de" d="M1380,1628 L1412,1628 M1335,1645 L1335,1665 M1335,1742 L1335,1767 M1295,1838 L1236,1842 M1083,1765 L1080,1745 M1494,1686 L1512,1697"/>
<path class="de" d="M1622,1633 C1645,1636 1653,1648 1651,1662"/>
<path class="de" d="M1577,1648 C1574,1665 1560,1675 1535,1678"/>
<g marker-end="url(#md)">
<path class="de" d="M1160,1330 Q1125,1318 1091,1319"/>
<path class="de" d="M1188,1340 L1188,1377"/>
<path class="de" d="M1050,1378 C1050,1420 1078,1440 1078,1488"/>
<path class="de" d="M1497,1488 C1490,1440 1472,1385 1463,1345 C1455,1310 1445,1285 1433,1266"/>
<path class="de" d="M1422,1366 C1380,1350 1330,1310 1280,1290 C1240,1275 1200,1262 1171,1259"/>
<path class="de" d="M1573,1485 C1612,1450 1645,1400 1627,1345 C1605,1290 1530,1280 1519,1242 C1514,1222 1525,1208 1542,1203"/>
<path class="de" d="M1812,1259 C1832,1232 1848,1210 1882,1207"/>
<path class="de" d="M1818,1289 C1870,1300 1922,1320 1935,1352"/>
<path class="de" d="M1740,1437 C1762,1395 1805,1376 1872,1374"/>
<path class="de" d="M1780,1457 C1822,1455 1856,1465 1878,1480"/>
<path class="de" d="M1753,1708 C1760,1640 1790,1572 1830,1545 C1850,1532 1865,1515 1880,1508"/>
<path class="de" d="M1767,1703 C1785,1660 1822,1622 1882,1619"/>
<path class="de" d="M1796,1725 L1867,1725"/>
<path class="de" d="M1757,1745 C1792,1775 1810,1832 1855,1835"/>
<path class="de" d="M1180,1543 C1200,1535 1222,1520 1227,1502"/>
<path class="de" d="M1123,1579 C1115,1592 1102,1598 1090,1600"/>
<path class="de" d="M1182,1578 C1195,1582 1203,1590 1205,1599"/>
<path class="de" d="M1237,1617 C1260,1618 1270,1628 1289,1628"/>
<path class="de" d="M1498,1632 L1530,1632"/>
<path class="de" d="M1335,1677 L1335,1708"/>
<path class="de" d="M1335,1779 L1335,1821"/>
<path class="de" d="M1346,1776 C1362,1790 1400,1793 1480,1793 C1525,1793 1545,1800 1550,1812"/>
<path class="de" d="M1202,1839 L1158,1813"/>
<path class="de" d="M1190,1849 C1170,1855 1150,1857 1135,1857"/>
<path class="de" d="M1047,1721 C1042,1712 1040,1705 1040,1698"/>
<path class="de" d="M1406,1838 L1379,1838"/>
<path class="de" d="M1503,1840 L1526,1840"/>
<path class="de" d="M1638,1684 C1630,1700 1620,1712 1613,1722"/>
<path class="de" d="M1681,1665 C1697,1656 1705,1648 1709,1635"/>
<path class="de" d="M1435,1687 C1420,1700 1400,1712 1374,1717"/>
<path class="de" d="M1472,1687 C1462,1695 1455,1705 1453,1717"/>
<path class="de" d="M1563,1708 C1578,1710 1586,1714 1588,1722"/>
</g>
<g marker-end="url(#mg)">
<path class="dg" d="M1200,1484 C1172,1486 1150,1505 1124,1506"/>
<path class="dg" d="M1246,1501 C1256,1520 1290,1525 1298,1544"/>
<path class="dg" d="M1050,1617 C1045,1630 1040,1640 1040,1654"/>
<path class="dg" d="M1052,1626 C1080,1636 1110,1638 1115,1654"/>
<path class="dg" d="M1206,1634 L1206,1702"/>
</g>
</g>
<g id="d-labels">
<text class="dl" x="1188" y="1337">é encontrada em (1-3)</text>
<text class="dl" x="1067" y="1442">são formados por (5)</text>
<text class="dl" x="1392" y="1377" style="text-anchor:start">nutricionalmente podem provocar (1-4)</text>
<text class="dl" x="1510" y="1322" style="text-anchor:start">estão sendo substituídas por (29)</text>
<text class="dl" x="1785" y="1267">produtos que</text>
<text class="dl" x="1785" y="1279">passam pelo</text>
<text class="dl" x="1785" y="1290">processo de (30-31)</text>
<text class="dl" x="1725" y="1445">quando de origem</text>
<text class="dl" x="1725" y="1454">vegetal podem passar</text>
<text class="dl" x="1725" y="1463">pelos processos de (27-28)</text>
<text class="dl" x="1142" y="1553">formados a partir de</text>
<text class="dl" x="1142" y="1565">uma reação química</text>
<text class="dl" x="1142" y="1576">que envolve (6-8)</text>
<text class="dl" x="1452" y="1627">sua cadeia carbônica</text>
<text class="dl" x="1455" y="1638">influencia no (15)</text>
<text class="dl" x="1335" y="1673">que podem ter (9)</text>
<text class="dl" x="1475" y="1684">diminui em função de (18-20)</text>
<text class="dl" x="1540" y="1705">diminuir a (21)</text>
<text class="dl" x="1648" y="1671">aumenta em função</text>
<text class="dl" x="1648" y="1682">do aumento do(a) (16-17)</text>
<text class="dl" x="1333" y="1775">dão origem a (10-11)</text>
<text class="dl" x="1060" y="1728">devido a</text>
<text class="dl" x="1060" y="1740">especificidade das (14)</text>
<text class="dl" x="1212" y="1848">são (12-13)</text>
<text class="dl" x="1455" y="1831">que através da reação</text>
<text class="dl" x="1455" y="1843">de <tspan font-weight="bold">isomerização</tspan> podem</text>
<text class="dl" x="1455" y="1855">ser convertidos em (22)</text>
<text class="dl" x="1757" y="1716">são encontrados</text>
<text class="dl" x="1757" y="1727">nos produtos</text>
<text class="dl" x="1757" y="1738">oriundos de (25-26)</text>
</g>
<g id="d-aumento"><rect class="dor" x="1012" y="1223" width="155" height="71" rx="3"/><text class="dt" x="1090" y="1241">aumento da taxa</text><text class="dt" x="1090" y="1255">do LDL-colesterol, causando</text><text class="dt" x="1090" y="1269">aumento do risco de</text><text class="dt" x="1090" y="1283">doenças cardiovasculares</text></g>
<g id="d-inibicao"><rect class="dor" x="1256" y="1179" width="199" height="83" rx="3"/><text class="dt" x="1356" y="1196">inibição de enzimas</text><text class="dt" x="1356" y="1211">de dessaturação, causando efeitos na</text><text class="dt" x="1356" y="1225">saúde materno-infantil,</text><text class="dt" x="1356" y="1239">afetando o processo de crescimento</text><text class="dt" x="1356" y="1253">e desenvolvimento da criança</text></g>
<g id="d-gorduras"><rect x="1012" y="1312" width="77" height="66" rx="3" fill="#5aa8f5" stroke="#3a78c0"/><text class="dt" x="1050.5" y="1332" font-weight="bold" fill="#1a2a50">gorduras</text><text class="ds" x="1050.5" y="1344">(sólidas em</text><text class="ds" x="1050.5" y="1355">temperatura</text><text class="ds" x="1050.5" y="1366">ambiente)</text></g>
<g id="d-oleos"><rect x="1156" y="1378" width="78" height="67" rx="3" fill="#ffe135" stroke="#c8a820"/><text class="dt" x="1195" y="1398" font-weight="bold">óleos</text><text class="ds" x="1195" y="1410">(líquidos em</text><text class="ds" x="1195" y="1421">temperatura</text><text class="ds" x="1195" y="1432">ambiente)</text></g>
<g id="d-triacil"><rect x="1033" y="1490" width="89" height="32" rx="3" fill="#3fba55" stroke="#2a8a3a"/><text class="dt" x="1077.5" y="1510" font-weight="bold" font-size="11.5" fill="#0e3a14">triacilgliceróis</text></g>
<g id="d-produtos"><rect class="dgr" x="1200" y="1467" width="55" height="33" rx="3"/><text class="dt" x="1227.5" y="1488" fill="#205a30">produtos</text></g>
<g id="d-agua"><rect class="dgy" x="1294" y="1545" width="34" height="34" rx="3"/><text class="dt" x="1311" y="1566">água</text></g>
<g id="d-catalisadores"><rect class="dgr" x="1012" y="1583" width="77" height="34" rx="3"/><text class="dt" x="1050.5" y="1604" fill="#205a30">catalisadores</text></g>
<g id="d-enzimas"><rect class="dgr" x="1012" y="1655" width="56" height="42" rx="3"/><text class="dt" x="1040" y="1674" fill="#205a30">enzimas</text><text class="dt" x="1040" y="1688" fill="#205a30">(lipases)</text></g>
<g id="d-meio"><rect class="dgr" x="1088" y="1655" width="57" height="42" rx="3"/><text class="dt" x="1116.5" y="1674" fill="#205a30">meio</text><text class="dt" x="1116.5" y="1688" fill="#205a30">ácido</text></g>
<g id="d-reagentes"><rect class="dgr" x="1175" y="1600" width="62" height="34" rx="3"/><text class="dt" x="1206" y="1621" fill="#205a30">reagentes</text></g>
<g id="d-glicerol"><rect class="dgy" x="1175" y="1703" width="62" height="44" rx="3" fill="#d8d8e2"/><text class="dt" x="1206" y="1724">glicerol</text><text class="dt" x="1206" y="1738">(álcool)</text></g>
<g id="d-acidos"><rect x="1290" y="1611" width="90" height="34" rx="3" fill="#1fbba5" stroke="#108878"/><text class="dt" x="1335" y="1632" fill="#0a4a40">ácidos graxos</text></g>
<g id="d-fusao"><rect x="1532" y="1616" width="90" height="32" rx="3" fill="#80e5dc" stroke="#40a8a0"/><text class="dt" x="1577" y="1636" fill="#1a5a55">ponto de fusão</text></g>
<g id="d-atomos"><rect class="dcy" x="1677" y="1589" width="66" height="45" rx="3"/><text class="dt" x="1710" y="1607" fill="#2a5a5a">número</text><text class="dt" x="1710" y="1621" fill="#2a5a5a">de átomos</text></g>
<g id="d-insaturacoes"><rect class="dcy" x="1300" y="1709" width="72" height="33" rx="3"/><text class="dt" x="1336" y="1730" fill="#2a5a5a">Insaturações</text></g>
<g id="d-par"><rect class="dcy" x="1414" y="1718" width="78" height="40" rx="3"/><text class="dt" x="1453" y="1736" fill="#2a5a5a">número par</text><text class="dt" x="1453" y="1750" fill="#2a5a5a">de carbonos</text></g>
<g id="d-atracao"><rect x="1546" y="1724" width="88" height="41" rx="3" fill="#a0ece6" stroke="#50b0a8"/><text class="dt" x="1590" y="1742" fill="#1a5a55">atração de</text><text class="dt" x="1590" y="1756" fill="#1a5a55">van der Waals</text></g>
<g id="d-cis"><rect x="1295" y="1822" width="82" height="33" rx="3" fill="#7f7ff5" stroke="#5050c0"/><text class="dt" x="1336" y="1842" fill="#141470">isômeros cis</text></g>
<g id="d-trans"><rect x="1527" y="1813" width="100" height="33" rx="3" fill="#ff66de" stroke="#c030a8"/><text class="dt" x="1577" y="1833" fill="#5a0a4a">isômeros trans</text></g>
<g id="d-comuns"><rect class="dlv" x="1012" y="1765" width="145" height="48" rx="3"/><text class="dt" x="1084.5" y="1788" fill="#3a3a6a">mais comuns de serem</text><text class="dt" x="1084.5" y="1802" fill="#3a3a6a">encontrados na natureza</text></g>
<g id="d-termo"><rect class="dlv" x="1012" y="1833" width="121" height="49" rx="3"/><text class="dt" x="1072.5" y="1856" fill="#3a3a6a">termodinamicamente</text><text class="dt" x="1072.5" y="1870" fill="#3a3a6a">menos estáveis</text></g>
<g id="d-zero"><rect class="dli" x="1543" y="1181" width="112" height="42" rx="3"/><text class="dt" x="1599" y="1199" fill="#4a3a5a">alimentos com 0%</text><text class="dt" x="1599" y="1213" fill="#4a3a5a">de gordura <tspan font-style="italic">trans</tspan></text></g>
<g id="d-transest"><rect class="dli" x="1887" y="1190" width="80" height="33" rx="3"/><text class="dts" x="1891" y="1211" fill="#4a3a5a">transesterifi</text></g>
<g id="d-hsat"><rect x="1877" y="1353" width="90" height="51" rx="3" fill="#fff7a0" stroke="#c8c060"/><text class="dts" x="1880" y="1372" font-weight="bold">hidrogenaçã</text><text class="dts" x="1883" y="1385">(saturação de</text><text class="dts" x="1896" y="1397">as ligações</text></g>
<g id="d-hred"><rect class="dli" x="1884" y="1458" width="90" height="67" rx="3"/><text class="dts" x="1891" y="1488" font-weight="bold">hidrogenaç</text><text class="dts" x="1910" y="1499">(redução</text><text class="dts" x="1906" y="1510">de insatu</text></g>
<g id="d-reutil"><rect class="dpk" x="1884" y="1592" width="90" height="55" rx="3"/><text class="dts" x="1890" y="1616">reutilização</text><text class="dts" x="1905" y="1630">de óleos d</text></g>
<g id="d-ruminantes"><rect class="dpk" x="1868" y="1690" width="90" height="72" rx="3"/><text class="dts" x="1891" y="1709">alimentos ob</text><text class="dts" x="1894" y="1722">animais rum</text><text class="dts" x="1873" y="1736">(carnes, leites e</text><text class="dts" x="1900" y="1750" text-decoration="underline">bio-hidrog</text></g>
<g id="d-desodor"><rect class="dpk" x="1856" y="1801" width="110" height="69" rx="3"/><text class="dts" x="1872" y="1818" text-decoration="underline">desodorização i</text><text class="dts" x="1891" y="1831">visa a remoç</text><text class="dts" x="1873" y="1846">componentes vo</text><text class="dts" x="1873" y="1860">sabor e odor ind</text></g>
<g id="d-banner"><path d="M1354,1484 C1390,1482 1420,1500 1460,1500 C1505,1500 1530,1482 1570,1482 C1605,1482 1625,1492 1643,1497 L1643,1563 C1625,1558 1605,1548 1570,1546 C1530,1546 1505,1560 1460,1558 C1420,1556 1390,1546 1354,1548 Z" fill="#1f232a" stroke="#d01515" stroke-width="3"/><text x="1379" y="1532" font-family="'Liberation Serif','Times New Roman',serif" font-size="23" fill="#fff">O que é Gordura <tspan font-style="italic">Trans</tspan></text></g>
</g>
</svg>
